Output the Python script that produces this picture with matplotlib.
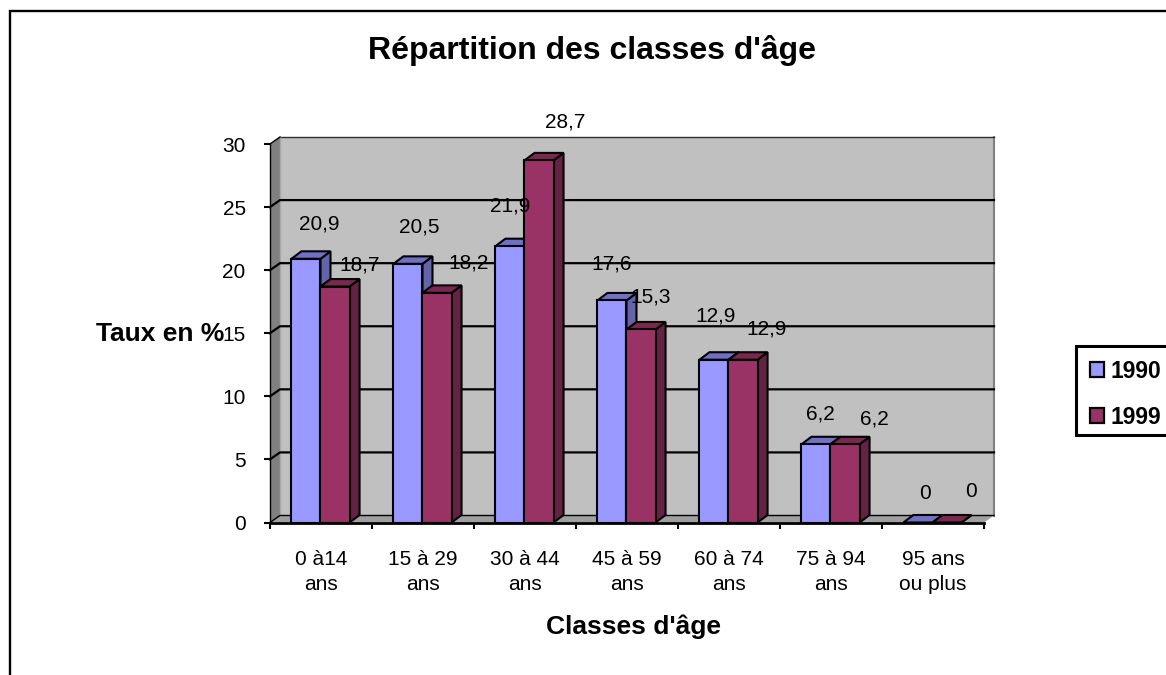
import matplotlib
matplotlib.use("Agg")
import matplotlib.pyplot as plt
from matplotlib.patches import Polygon, Rectangle, Patch
from matplotlib.lines import Line2D

plt.rcParams['font.family'] = ['Liberation Sans', 'DejaVu Sans']

title = "Répartition des classes d'âge"
xlabel = "Classes d'âge"
ylabel = "Taux en %"
categories = ["0 à14\nans", "15 à 29\nans", "30 à 44\nans", "45 à 59\nans",
              "60 à 74\nans", "75 à 94\nans", "95 ans\nou plus"]
years = ["1990", "1999"]
values_1990 = [20.9, 20.5, 21.9, 17.6, 12.9, 6.2, 0]
values_1999 = [18.7, 18.2, 28.7, 15.3, 12.9, 6.2, 0]
labels_1990 = ["20,9", "20,5", "21,9", "17,6", "12,9", "6,2", "0"]
labels_1999 = ["18,7", "18,2", "28,7", "15,3", "12,9", "6,2", "0"]
yticks = [0, 5, 10, 15, 20, 25, 30]

# label offsets from the bar's top, in pixels (style)
off_1990 = [(13, 35), (11, 37), (0, 40), (0, 36), (2, 44), (4, 30), (7, 29)]
off_1999 = [(25, 22), (32, 30), (26, 38), (10, 32), (24, 31), (29, 25), (24, 31)]

W, H = 1166, 675
L, R, B, T = 270, 984, 522.5, 144
fig = plt.figure(figsize=(W / 100, H / 100), dpi=100, facecolor="white")
ax = fig.add_axes([L / W, 1 - B / H, (R - L) / W, (B - T) / H])
ax.set_xlim(0, len(categories))
ax.set_ylim(0, 30)
ax.patch.set_visible(False)

DX = 10 / 102
DY = 7 / ((B - T) / 30)
BDY = 7.5 / ((B - T) / 30)
n = len(categories)
BAR = 0.285
START = 0.21

def poly(pts, fc, ec="black", lw=0, z=1):
    ax.add_patch(Polygon(pts, closed=True, fc=fc, ec=ec, lw=lw, zorder=z,
                         clip_on=False, joinstyle="miter"))

# walls and floor
poly([(DX, DY), (n + DX, DY), (n + DX, 30 + DY), (DX, 30 + DY)], "#C0C0C0", z=1)
poly([(0, 0), (DX, DY), (DX, 30 + DY), (0, 30)], "#808080", z=1.1)
poly([(0, 0), (n, 0), (n + DX, DY), (DX, DY)], "#A0A0A0", z=1.1)
ax.plot([n + DX, n + DX], [DY, 30 + DY], color="#808080", lw=1.5, zorder=1.2, clip_on=False)
ax.plot([DX, n + DX], [30 + DY, 30 + DY], color="#303030", lw=1.0, zorder=1.2, clip_on=False)
ax.plot([DX, DX], [DY, 30 + DY], color="#A8A8A8", lw=1.0, zorder=1.2, clip_on=False)

# gridlines
for v in yticks[:-1]:
    ax.plot([0, DX, n + DX], [v, v + DY, v + DY], color="black",
            lw=1.6 if v else 1.0, zorder=1.5, clip_on=False, solid_joinstyle="miter")
ax.plot([0, DX], [30, 30 + DY], color="black", lw=1.0, zorder=1.5, clip_on=False)

series = [
    (values_1990, labels_1990, off_1990, START, "#9999FF", "#7070C4", "#6464AA"),
    (values_1999, labels_1999, off_1999, START + BAR, "#993366", "#7A2850", "#662244"),
]
EDGE = 1.5
z = 3
for i in range(n):
    for vals, labs, offs, start, front, top, side in series:
        v = vals[i]
        x0 = i + start
        x1 = x0 + BAR
        poly([(x1, 0), (x1 + DX, BDY), (x1 + DX, v + BDY), (x1, v)], side, lw=EDGE, z=z)
        poly([(x0, v), (x1, v), (x1 + DX, v + BDY), (x0 + DX, v + BDY)], top, lw=EDGE, z=z)
        ax.bar(x0, v, width=BAR, align="edge", color=front, edgecolor="black",
               linewidth=EDGE, zorder=z + 0.1, clip_on=False)
        z += 0.2

for vals, labs, offs, start, *_ in series:
    for i, (v, s, o) in enumerate(zip(vals, labs, offs)):
        ax.annotate(s, xy=(i + start + BAR / 2, v), xytext=o, textcoords="offset pixels",
                    ha="center", va="center", fontsize=15, color="black",
                    zorder=50, annotation_clip=False)

# axes
for s in ("top", "right"):
    ax.spines[s].set_visible(False)
ax.spines["left"].set_linewidth(1.0)
ax.spines["bottom"].set_linewidth(2.0)
ax.spines["bottom"].set_zorder(40)
ax.spines["left"].set_zorder(40)
ax.set_yticks(yticks)
ax.tick_params(axis="y", length=4, width=1.5, pad=13.5, labelsize=15)
ax.set_xticks(range(n + 1))
ax.set_xticklabels([""] * (n + 1))
ax.tick_params(axis="x", which="major", length=4, width=1.5)
ax.set_xticks([i + 0.5 for i in range(n)], minor=True)
ax.set_xticklabels(categories, minor=True, fontsize=15, linespacing=1.35)
ax.tick_params(axis="x", which="minor", length=0, pad=20)

def fx(x):
    return x / W
def fy(y):
    return 1 - y / H

fig.text(fx(592.5), fy(51), title, ha="center", va="center", fontsize=23, fontweight="bold")
fig.text(fx(633.5), fy(627), xlabel, ha="center", va="center", fontsize=19, fontweight="bold")
fig.text(fx(224), fy(334), ylabel, ha="right", va="center", fontsize=19, fontweight="bold")

# outer frame: only left and top edges visible
fig.add_artist(Line2D([fx(10), fx(10), 1], [0, fy(11), fy(11)], color="black", lw=1.7,
                      solid_joinstyle="miter"))

# legend
fig.add_artist(Rectangle((fx(1075.5), fy(435)), fx(95), 89 / H, fc="white", ec="black", lw=2.2,
                         transform=fig.transFigure, clip_on=True))
handles = [Patch(fc="#9999FF", ec="black", lw=1.6), Patch(fc="#993366", ec="black", lw=1.6)]
fig.legend(handles, years, loc="upper left", bbox_to_anchor=(fx(1085), fy(355)),
           frameon=False, prop={"size": 16.5, "weight": "bold"}, handlelength=0.62,
           handleheight=0.62, handletextpad=0.3, labelspacing=1.02, borderpad=0.2,
           borderaxespad=0)

fig.savefig("out.png", dpi=100, facecolor="white")
